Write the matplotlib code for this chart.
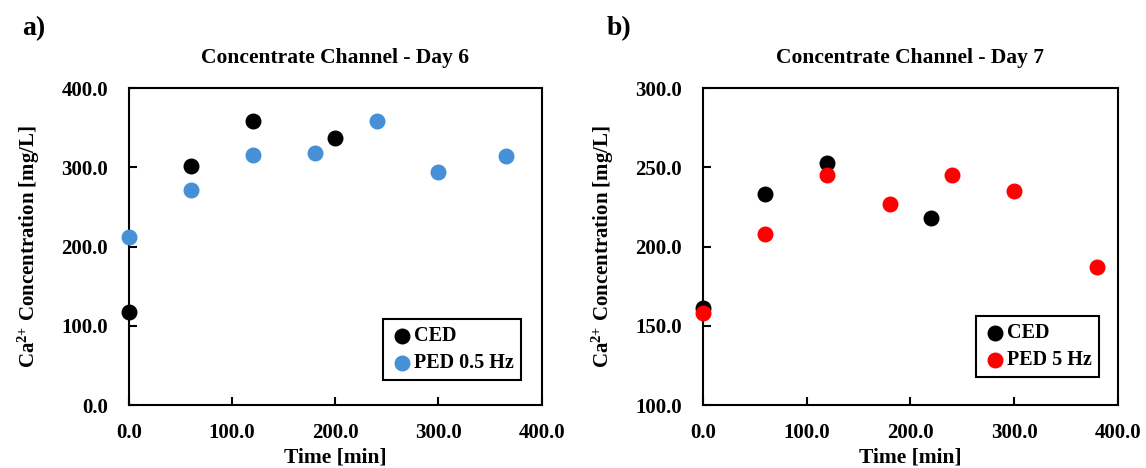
import matplotlib
matplotlib.use("Agg")
import matplotlib.pyplot as plt

plt.rcParams["font.family"] = "Liberation Serif"
plt.rcParams["font.weight"] = "bold"
plt.rcParams["mathtext.fontset"] = "custom"
plt.rcParams["mathtext.rm"] = "Liberation Serif:bold"
plt.rcParams["mathtext.default"] = "rm"

# Day 6 data
d6_ced_t = [0, 60, 120, 200]
d6_ced_c = [117, 302, 358, 337]
d6_ped_t = [0, 60, 120, 180, 240, 300, 365]
d6_ped_c = [212, 271, 316, 318, 358, 294, 314]

# Day 7 data
d7_ced_t = [0, 60, 120, 220]
d7_ced_c = [161, 233, 253, 218]
d7_ped_t = [0, 60, 120, 180, 240, 300, 380]
d7_ped_c = [158, 208, 245, 227, 245, 235, 187]

fig = plt.figure(figsize=(11.46, 4.68), dpi=100)
ax1 = fig.add_axes([0.1126, 0.1346, 0.36, 0.677])
ax2 = fig.add_axes([0.6134, 0.1346, 0.362, 0.677])


def style(ax, title, ylim, yticks, leg_anchor):
    ax.set_xlim(0, 400)
    ax.set_ylim(*ylim)
    ax.set_xticks([0, 100, 200, 300, 400])
    ax.set_yticks(yticks)
    ax.set_xticklabels([f"{v:.1f}" for v in [0, 100, 200, 300, 400]])
    ax.set_yticklabels([f"{v:.1f}" for v in yticks])
    ax.tick_params(direction="in", length=6, width=1.5, labelsize=15)
    ax.tick_params(axis="x", pad=13)
    ax.tick_params(axis="y", pad=15)
    for s in ax.spines.values():
        s.set_linewidth(1.5)
    ax.set_title(title, fontsize=15.5, fontweight="bold", pad=18)
    ax.set_xlabel("Time [min]", fontsize=15.5, fontweight="bold", labelpad=3)
    ax.set_ylabel("Ca$^{2{+}}$ Concentration [mg/L]", fontsize=15, fontweight="bold", labelpad=14)
    leg = ax.legend(loc="lower right", bbox_to_anchor=leg_anchor, fancybox=False,
                    edgecolor="black", framealpha=1, handletextpad=0.0,
                    handlelength=1.2, borderpad=0.35, labelspacing=0.35,
                    borderaxespad=0, prop={"size": 14.5, "weight": "bold"})
    leg.get_frame().set_linewidth(1.5)


ax1.scatter(d6_ced_t, d6_ced_c, s=110, color="black", label="CED", zorder=3, clip_on=False)
ax1.scatter(d6_ped_t, d6_ped_c, s=110, color="#4590d6", label="PED 0.5 Hz", zorder=3, clip_on=False)
style(ax1, "Concentrate Channel - Day 6", (0, 400), [0, 100, 200, 300, 400], (0.95, 0.079))

ax2.scatter(d7_ced_t, d7_ced_c, s=110, color="black", label="CED", zorder=3, clip_on=False)
ax2.scatter(d7_ped_t, d7_ped_c, s=110, color="#ff0000", label="PED 5 Hz", zorder=3, clip_on=False)
style(ax2, "Concentrate Channel - Day 7", (100, 300), [100, 150, 200, 250, 300], (0.954, 0.088))

fig.text(0.019, 0.925, "a)", fontsize=20, fontweight="bold")
fig.text(0.529, 0.925, "b)", fontsize=20, fontweight="bold")

fig.savefig("out.png", dpi=100)
